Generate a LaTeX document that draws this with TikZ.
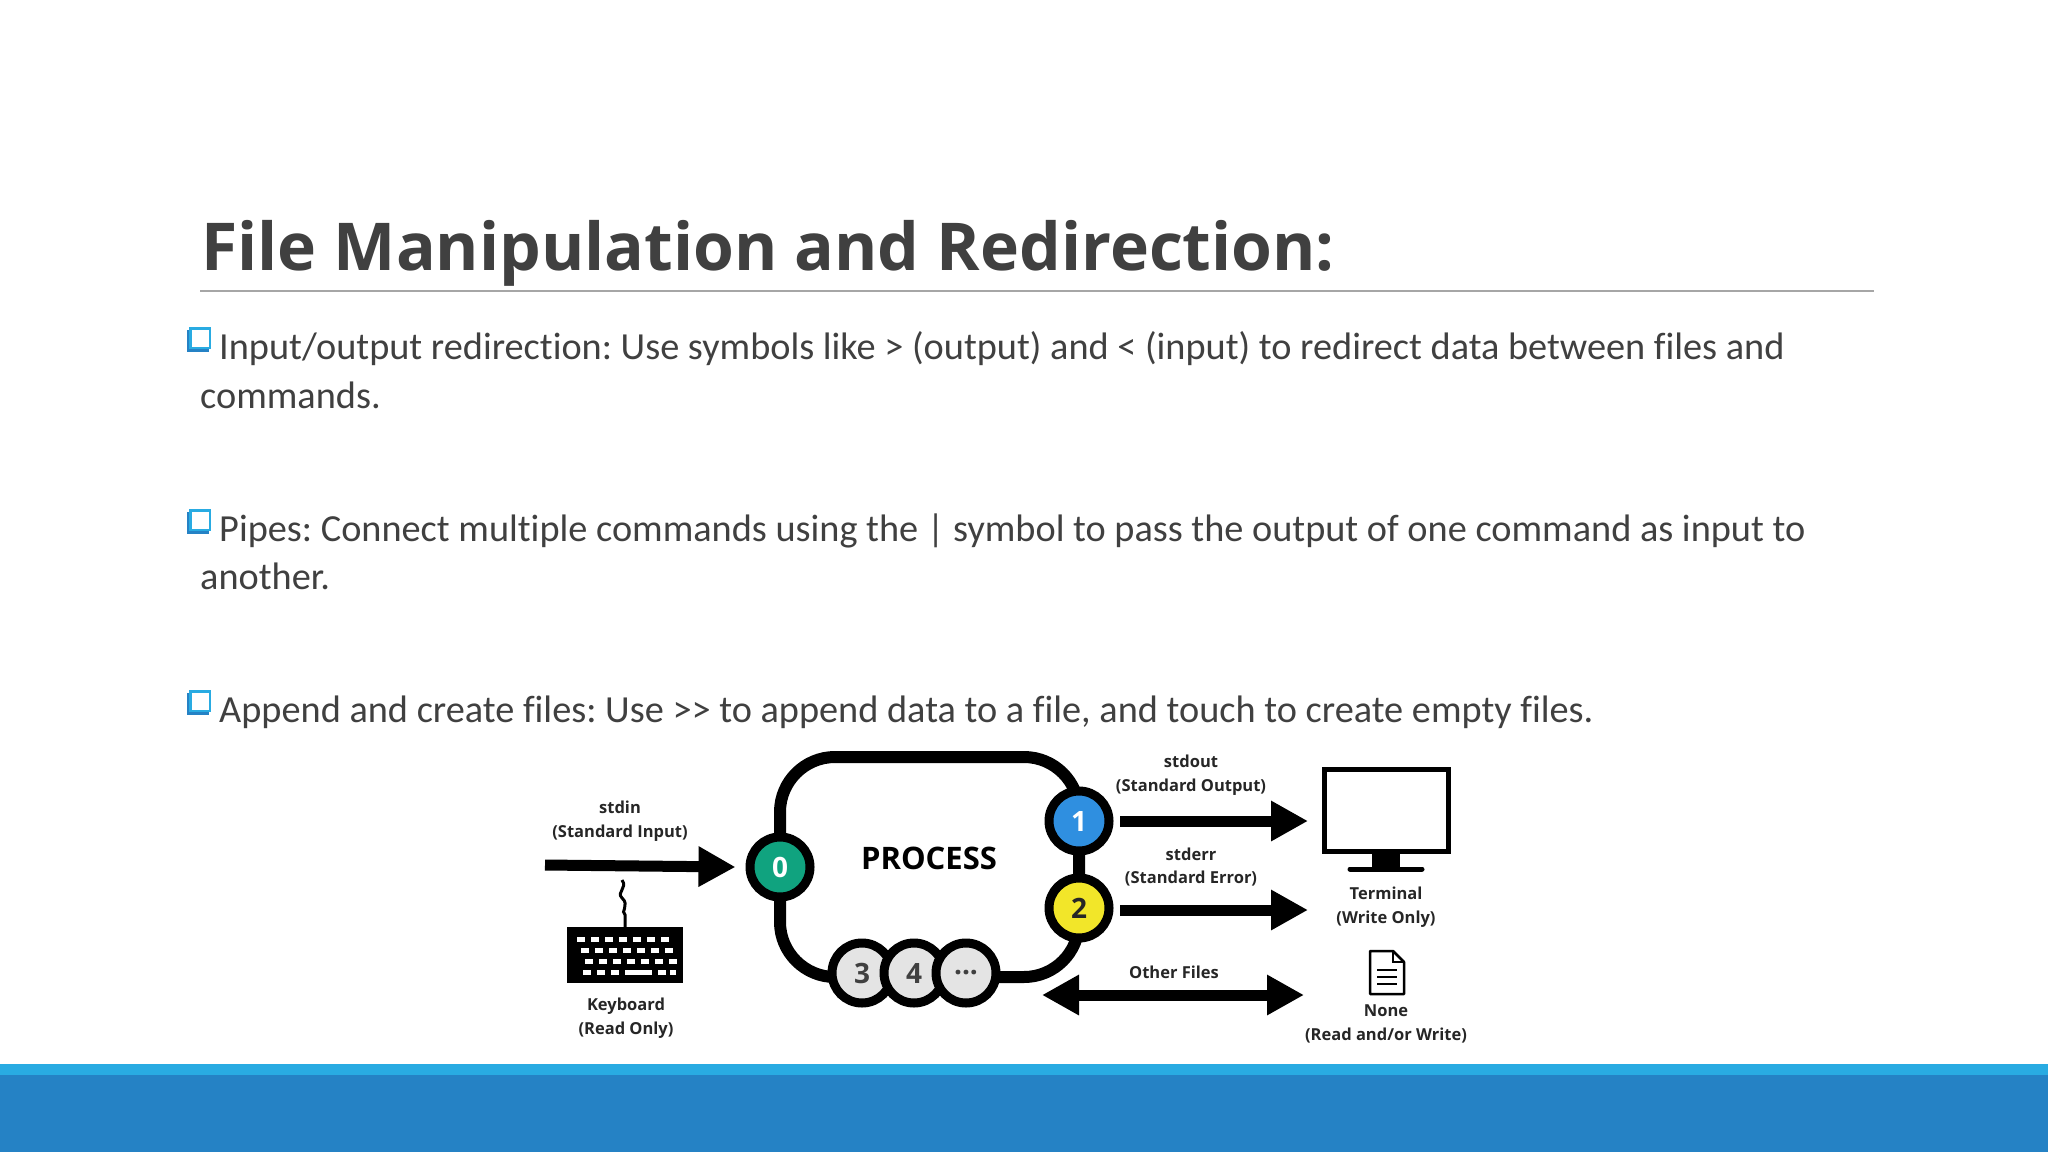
\documentclass[tikz,border=0pt]{standalone}
\usepackage{fontspec}
\setmainfont{Carlito}[Ligatures=NoCommon]
\newfontfamily\osans{Open Sans}
\usetikzlibrary{arrows.meta}
\frenchspacing
\definecolor{txt}{HTML}{404040}
\definecolor{lblue}{HTML}{29ABE2}
\definecolor{dblue}{HTML}{2582C5}
\definecolor{teal0}{HTML}{10A37F}
\definecolor{blue1}{HTML}{2F8FE0}
\definecolor{yel2}{HTML}{F2E629}
\definecolor{gry}{HTML}{E4E4E4}
\tikzset{
  body/.style={anchor=base west,inner sep=0,text=txt,font=\fontsize{38.3}{44}\selectfont},
  lbl/.style={align=center,inner sep=0,font=\osans\bfseries\fontsize{16.5}{23.5}\selectfont,text=black!85},
  port/.style={circle,draw=black,line width=9pt,minimum size=60pt,inner sep=0,font=\osans\bfseries\fontsize{28}{28}\selectfont},
  bigarrow/.style={line width=11pt,-{Triangle[length=37pt,width=38pt]}},
  dblarrow/.style={line width=11pt,{Triangle[length=37pt,width=38pt]}-{Triangle[length=37pt,width=38pt]}},
  bulletbox/.pic={
    \fill[dblue] (-2,3) rectangle (20,25);
    \draw[lblue,fill=white,line width=2.5pt] (1.5,1.5) rectangle (21,21);
  }
}
\begin{document}
\begin{tikzpicture}[x=1pt,y=-1pt]
\useasboundingbox (0,0) rectangle (2048,1152);
\fill[white] (0,0) rectangle (2048,1152);
% title
\node[anchor=base west,inner sep=0,text=txt,font=\osans\bfseries\fontsize{66}{72}\selectfont] (title) at (201,270) {File Manipulation and Redirection:};
\draw[gray!70,line width=1.5pt] (200,291) -- (1874,291);
% bullets
\pic at (189,327) {bulletbox};
\node[body] (b1) at (219,359) {Input/output redirection: Use symbols like > (output) and < (input) to redirect data between files and};
\node[body] (b1b) at (200,408) {commands.};
\pic at (189,509) {bulletbox};
\node[body] (b2) at (219,541) {Pipes: Connect multiple commands using the | symbol to pass the output of one command as input to};
\node[body] (b2b) at (200,589) {another.};
\pic at (189,690) {bulletbox};
\node[body] (b3) at (219,722) {Append and create files: Use {>}{>} to append data to a file, and touch to create empty files.};
% bottom bars
\fill[lblue] (0,1064) rectangle (2048,1075);
\fill[dblue] (0,1075) rectangle (2048,1152);
% process
\draw[line width=12pt,rounded corners=55pt] (780,757) rectangle (1079,977);
\node[inner sep=0,font=\osans\bfseries\fontsize{31}{31}\selectfont] (proc) at (929,858) {PROCESS};
\node[port,fill=teal0,text=white] (c0) at (780,867) {0};
\node[port,fill=blue1,text=white] (c1) at (1079,821) {1};
\node[port,fill=yel2,text=black!85] (c2) at (1079,908) {2};
\node[port,fill=gry,text=black!75] (c3) at (862,973) {3};
\node[port,fill=gry,text=black!75] (c4) at (914,973) {4};
\node[port,fill=gry,text=black!75] (c5) at (966,973) {...};
% stdin
\coordinate (inS) at (545,865);
\draw[bigarrow] (inS) -- ([xshift=-10pt]c0.west);
\node[lbl] (stdin) at (620,821) {stdin\\(Standard Input)};
% keyboard
\node[fill=black,minimum width=116pt,minimum height=56pt,inner sep=0] (kb) at (625,955) {};
\foreach \r/\yy in {0/937,1/948,2/959} {
  \foreach \k in {0,...,6} {
    \fill[white] (577+\k*14+\r*4,\yy) rectangle ++(8,5);
  }
}
\foreach \k in {0,1,2} {\fill[white] (583+\k*14,970) rectangle ++(8,5);}
\fill[white] (625,970) rectangle (652,975);
\fill[white] (658,970) rectangle (666,975);
\fill[white] (670,970) rectangle (676,975);
\draw[line width=3pt] (kb.north) -- ++(0,-12) .. controls (620,912) and (630,905) .. (622,898) .. controls (616,892) and (628,888) .. (622,880);
\node[lbl] (kbl) at (626,1018) {Keyboard\\(Read Only)};
% monitor
\node[draw=black,line width=5pt,minimum width=124pt,minimum height=82pt,inner sep=0] (mon) at (1386,810) {};
\fill (1372,852) rectangle (1400,868);
\draw[line width=5pt,line cap=round] (1350,869) -- (1422,869);
\node[lbl] (terml) at (1386,907) {Terminal\\(Write Only)};
% outputs
\coordinate (o1) at (1120,821);
\coordinate (o1e) at (1308,821);
\draw[bigarrow] (o1) -- (o1e);
\node[lbl] (stdout) at (1191,775) {stdout\\(Standard Output)};
\coordinate (o2) at (1120,910);
\coordinate (o2e) at (1308,910);
\draw[bigarrow] (o2) -- (o2e);
\node[lbl] (stderr) at (1191,867) {stderr\\(Standard Error)};
% other files
\coordinate (f1) at (1042,995);
\coordinate (f2) at (1304,995);
\draw[dblarrow] (f1) -- (f2);
\node[lbl] (of) at (1174,972) {Other Files};
% document icon
\draw[line width=2.5pt,line join=round] (1370,951) -- (1393,951) -- (1404,962) -- (1404,994) -- (1370,994) -- cycle;
\draw[line width=2pt] (1393,951) -- (1393,962) -- (1404,962);
\foreach \yy in {970,977,984} {\draw[line width=2pt] (1377,\yy) -- (1397,\yy);}
\node[lbl] (nonel) at (1386,1024) {None\\(Read and/or Write)};
\end{tikzpicture}
\end{document}
